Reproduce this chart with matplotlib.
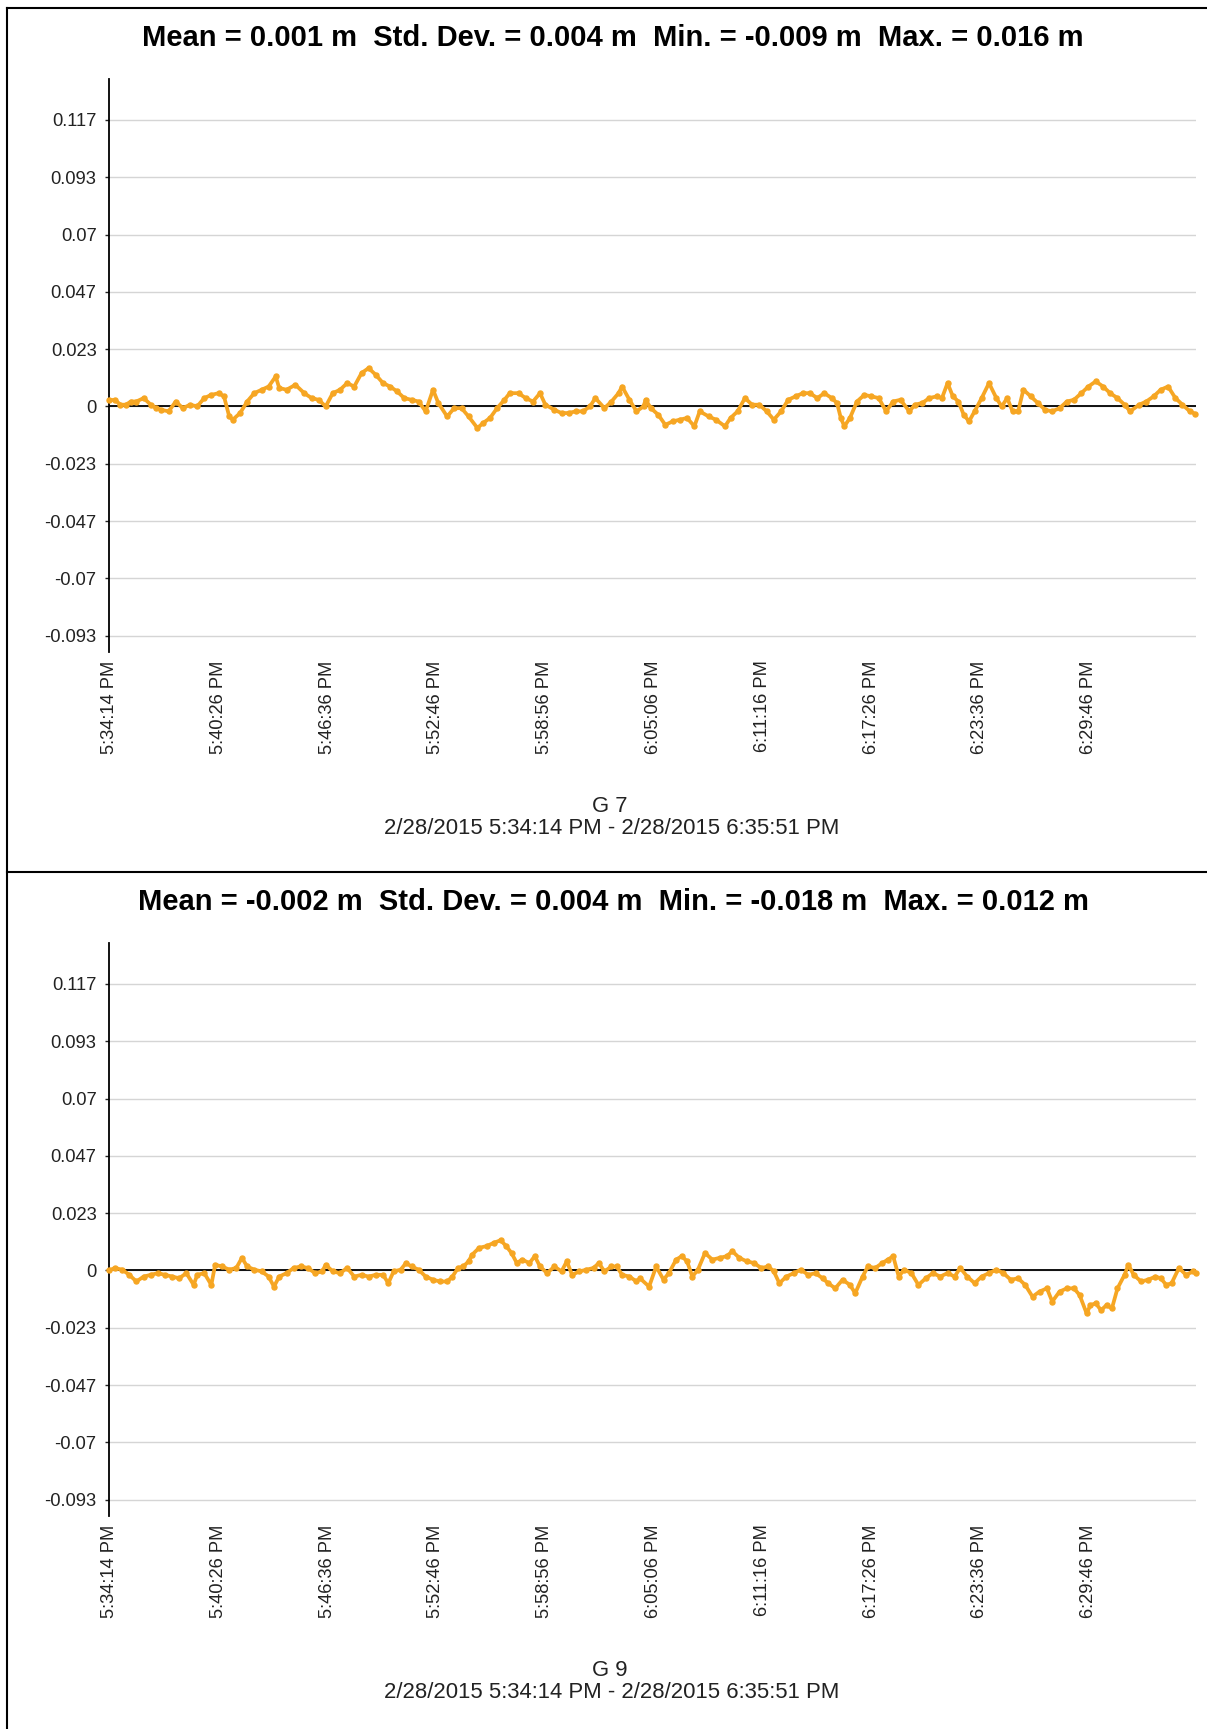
"""
Deviation plots for G 7 and G 9
"""

import matplotlib
matplotlib.use("Agg")
import matplotlib.pyplot as plt
from matplotlib.lines import Line2D

plt.rcParams['font.family'] = ['Liberation Sans', 'DejaVu Sans']

W, H = 1207, 1729

period_label = "2/28/2015 5:34:14 PM - 2/28/2015 6:35:51 PM"
duration_s = 3697

x_tick_labels = ["5:34:14 PM", "5:40:26 PM", "5:46:36 PM", "5:52:46 PM", "5:58:56 PM",
                 "6:05:06 PM", "6:11:16 PM", "6:17:26 PM", "6:23:36 PM", "6:29:46 PM"]

# stats: mean, std dev, min, max (m)
g7_stats = [0.001, 0.004, -0.009, 0.016]
g9_stats = [-0.002, 0.004, -0.018, 0.012]

# seconds from start / deviation in mm
g7_t = [0, 20, 39, 57, 75, 93, 118, 142, 160, 178, 203, 227, 251, 276, 300, 324, 348, 373,
        391, 409, 421, 446, 470, 494, 519, 543, 567, 579, 604, 634, 664, 689, 713, 737, 761,
        786, 810, 834, 859, 883, 907, 932, 956, 980, 1004, 1029, 1053, 1077, 1102, 1120,
        1150, 1174, 1199, 1223, 1253, 1272, 1296, 1320, 1345, 1363, 1393, 1417, 1442, 1466,
        1484, 1515, 1539, 1563, 1587, 1612, 1636, 1654, 1685, 1709, 1733, 1745, 1770, 1794,
        1818, 1825, 1843, 1868, 1892, 1917, 1941, 1966, 1991, 2009, 2040, 2064, 2095, 2114,
        2138, 2163, 2187, 2212, 2237, 2261, 2286, 2310, 2335, 2360, 2384, 2409, 2433, 2458,
        2476, 2489, 2501, 2520, 2544, 2569, 2593, 2618, 2643, 2667, 2692, 2722, 2741, 2766,
        2790, 2815, 2833, 2852, 2870, 2889, 2907, 2925, 2944, 2968, 2993, 3018, 3036, 3055,
        3073, 3092, 3110, 3135, 3159, 3184, 3208, 3233, 3258, 3282, 3307, 3331, 3356, 3381,
        3405, 3430, 3454, 3473, 3504, 3528, 3553, 3577, 3602, 3627, 3651, 3676, 3694]
g7_mm = [2.5, 2.7, 0.7, 0.7, 2.0, 2.0, 3.4, 0.7, -0.7, -1.4, -2.0, 2.0, -0.7, 0.7, 0.0, 3.4,
         4.7, 5.4, 4.1, -4.1, -5.4, -2.7, 2.0, 5.4, 6.8, 8.1, 12.2, 7.5, 6.8, 8.8, 5.4, 3.4,
         2.7, 0.0, 5.4, 6.8, 9.5, 8.1, 13.6, 15.6, 12.9, 9.5, 8.1, 6.1, 3.4, 2.7, 2.0, -2.0,
         6.8, 1.4, -4.1, -0.7, -0.7, -4.1, -8.8, -6.8, -4.7, -0.7, 2.7, 5.4, 5.4, 3.4, 2.0,
         5.4, 0.7, -1.4, -2.7, -2.7, -2.0, -2.0, 0.0, 3.4, -0.7, 2.0, 5.4, 8.1, 2.7, -2.0,
         0.0, 2.7, -0.7, -3.4, -7.5, -6.1, -5.4, -4.7, -8.1, -2.0, -4.1, -5.4, -8.1, -4.7,
         -2.0, 3.4, 0.7, 0.7, -2.0, -5.4, -2.0, 2.7, 4.1, 5.4, 5.4, 3.4, 5.4, 3.4, 1.4,
         -4.7, -8.1, -4.7, 2.0, 4.7, 4.1, 3.4, -2.0, 2.0, 2.7, -2.0, 0.7, 1.4, 3.4, 4.1, 3.4,
         9.5, 4.1, 2.0, -3.4, -6.1, -2.0, 3.4, 9.5, 3.4, 0.0, 3.4, -2.0, -2.0, 6.8, 4.1, 1.4,
         -1.4, -2.0, -0.7, 2.0, 2.7, 5.4, 8.1, 10.2, 8.1, 5.4, 3.4, 0.7, -2.0, 0.7, 2.0, 4.1,
         6.8, 8.1, 3.4, 0.7, -2.0, -3.0]

g9_t = [0, 20, 45, 69, 93, 118, 142, 166, 191, 215, 239, 263, 288, 300, 324, 348, 361, 385,
        409, 433, 452, 470, 494, 519, 543, 561, 579, 604, 628, 652, 676, 701, 725, 737, 761,
        786, 810, 834, 859, 883, 907, 932, 950, 968, 992, 1010, 1029, 1053, 1077, 1102, 1126,
        1150, 1168, 1187, 1205, 1223, 1235, 1259, 1284, 1308, 1332, 1351, 1369, 1387, 1405,
        1430, 1448, 1466, 1490, 1515, 1539, 1557, 1575, 1600, 1624, 1648, 1666, 1685, 1709,
        1727, 1745, 1770, 1794, 1806, 1837, 1861, 1886, 1904, 1929, 1948, 1966, 1984, 2003,
        2027, 2052, 2077, 2101, 2120, 2144, 2169, 2194, 2218, 2243, 2261, 2280, 2304, 2329,
        2353, 2378, 2403, 2427, 2446, 2470, 2495, 2520, 2538, 2563, 2581, 2606, 2630, 2649,
        2667, 2686, 2704, 2729, 2753, 2778, 2802, 2827, 2852, 2876, 2895, 2919, 2944, 2968,
        2993, 3018, 3042, 3067, 3092, 3116, 3141, 3165, 3190, 3208, 3233, 3258, 3282, 3301,
        3325, 3338, 3356, 3374, 3393, 3411, 3430, 3454, 3467, 3485, 3510, 3534, 3559, 3577,
        3596, 3614, 3639, 3663, 3688, 3697]
g9_mm = [0.0, 1.0, 0.3, -1.8, -4.5, -2.5, -1.8, -1.1, -1.8, -2.5, -3.2, -1.1, -5.9, -1.8,
         -1.1, -5.9, 2.3, 1.6, 0.3, 1.0, 5.1, 1.6, 0.3, -0.4, -2.5, -6.6, -2.5, -1.1, 1.0, 1.6,
         1.0, -1.1, -0.4, 2.3, -0.4, -1.1, 1.0, -2.5, -1.8, -2.5, -1.8, -1.8, -5.2, -0.4, 0.3,
         3.0, 1.6, 0.3, -2.5, -3.8, -4.5, -4.5, -2.5, 1.0, 1.6, 3.7, 6.4, 9.2, 9.9, 11.2, 12.3,
         9.9, 7.1, 3.0, 4.4, 3.0, 5.8, 1.6, -1.1, 1.6, -0.4, 3.7, -1.8, -0.4, 0.3, 1.0, 3.0,
         -0.4, 1.6, 1.6, -1.8, -2.5, -4.5, -3.2, -6.6, 1.6, -3.8, -1.1, 4.4, 5.8, 3.7, -2.5,
         0.3, 7.1, 4.4, 5.1, 5.8, 7.8, 5.1, 3.7, 3.0, 1.0, 1.6, -0.4, -5.2, -2.5, -1.1, 0.3,
         -1.8, -1.1, -3.2, -5.2, -7.3, -3.8, -5.9, -9.3, -2.5, 1.6, 1.0, 3.0, 4.4, 5.8, -2.5,
         0.3, -1.1, -5.9, -3.2, -1.1, -2.5, -1.1, -2.5, 1.0, -2.5, -5.2, -2.5, -1.1, 0.3, -1.1,
         -3.8, -3.2, -5.9, -10.7, -8.6, -7.3, -12.7, -8.6, -7.3, -7.3, -10.0, -17.5, -14.1,
         -13.4, -16.2, -14.1, -15.5, -7.3, -1.8, 2.3, -1.8, -4.5, -3.8, -2.5, -3.2, -5.9, -5.2,
         1.0, -1.8, -0.4, -1.0]

panels = [
    ("G 7", g7_t, g7_mm, g7_stats),
    ("G 9", g9_t, g9_mm, g9_stats),
]

LINE_COLOR = '#F6A623'
PANEL_OFFSET = 864  # px between the two stacked panels


def clock_to_s(label):
    hms, ampm = label.split()
    h, m, s = [int(p) for p in hms.split(':')]
    if ampm == 'PM' and h != 12:
        h += 12
    return h * 3600 + m * 60 + s


def fmt_tick(v):
    txt = '%.3f' % v
    txt = txt.rstrip('0').rstrip('.')
    return '0' if txt in ('-0', '') else txt


t0 = clock_to_s(x_tick_labels[0])
x_ticks = [clock_to_s(lbl) - t0 for lbl in x_tick_labels]
y_ticks = [k * 0.07 / 3 for k in range(-4, 6)]

fig = plt.figure(figsize=(W / 100, H / 100), dpi=100)
fig.patch.set_facecolor('white')

for i, (name, ts, mm, stats) in enumerate(panels):
    off = i * PANEL_OFFSET
    # axes box in pixels: x 109..1196, y 79..652 (top panel)
    left, right = 109, 1196
    top, bottom = 79 + off, 652 + off
    ax = fig.add_axes([left / W, 1 - bottom / H, (right - left) / W, (bottom - top) / H])

    vals = [v / 1000 for v in mm]
    ax.plot(ts, vals, color=LINE_COLOR, lw=2.7, marker='o', ms=3.6, mec=LINE_COLOR,
            zorder=3, clip_on=False)
    ax.axhline(0, color='black', lw=1.3, zorder=2)

    ax.set_xlim(0, duration_s)
    ax.set_ylim(-0.1, 0.4 / 3)
    ax.set_yticks(y_ticks, [fmt_tick(v) for v in y_ticks])
    ax.set_xticks(x_ticks, x_tick_labels, rotation=90)
    ax.yaxis.grid(True, color='#d5d5d5', lw=1.0)
    ax.set_axisbelow(True)

    for side in ['top', 'right', 'bottom']:
        ax.spines[side].set_visible(False)
    ax.spines['left'].set_color('black')
    ax.spines['left'].set_linewidth(1.3)

    ax.tick_params(axis='y', length=3, width=1, pad=6, labelsize=13.2, colors='#222222')
    ax.tick_params(axis='x', length=0, pad=6, labelsize=13.2, colors='#222222')

    title = "Mean = %.3f m  Std. Dev. = %.3f m  Min. = %.3f m  Max. = %.3f m" % tuple(stats)
    fig.text(613 / W, 1 - (38 + off) / H, title, ha='center', va='center',
             fontsize=21, fontweight='bold', color='black')
    fig.text(610 / W, 1 - (806 + off) / H, name, ha='center', va='center',
             fontsize=15.9, color='#222222')
    fig.text(612 / W, 1 - (829 + off) / H, period_label, ha='center', va='center',
             fontsize=15.9, color='#222222')

# frame lines: left edge, top edge and the separator between panels
frame_kw = dict(color='black', lw=1.5, transform=fig.transFigure)
fig.add_artist(Line2D([7 / W, 7 / W], [1 - 8 / H, 0], **frame_kw))
fig.add_artist(Line2D([7 / W, 1], [1 - 8 / H, 1 - 8 / H], **frame_kw))
fig.add_artist(Line2D([7 / W, 1], [1 - 872 / H, 1 - 872 / H], **frame_kw))

fig.savefig('out.png', dpi=100)
